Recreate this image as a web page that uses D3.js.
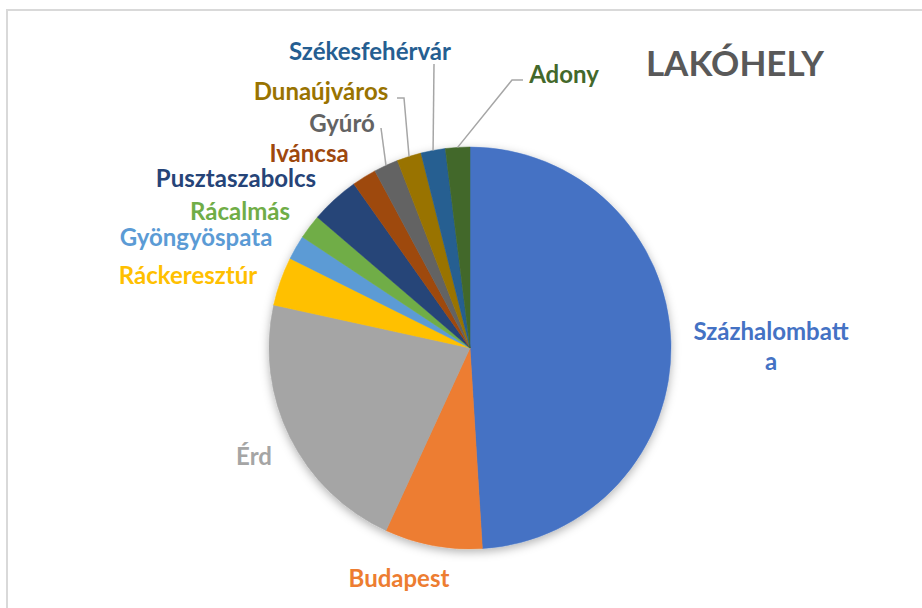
<!DOCTYPE html>
<html>
<head>
<meta charset="utf-8">
<script src="https://cdn.jsdelivr.net/npm/d3@7"></script>
<style>
  body { margin: 0; background: #fff; }
  svg text { font-family: Lato, "Open Sans", sans-serif; font-weight: bold; }
</style>
</head>
<body>
<div id="chart"></div>
<script>
// data (number of people per town)
var towns = ["Százhalombatta", "Budapest", "Érd", "Ráckeresztúr", "Gyöngyöspata", "Rácalmás",
             "Pusztaszabolcs", "Iváncsa", "Gyúró", "Dunaújváros", "Székesfehérvár", "Adony"];
var counts = [25, 4, 11, 2, 1, 1, 2, 1, 1, 1, 1, 1];
var colors = ["#4472C4", "#ED7D31", "#A5A5A5", "#FFC000", "#5B9BD5", "#70AD47",
              "#264478", "#9E480E", "#636363", "#997300", "#255E91", "#43682B"];
var title = "LAKÓHELY";

var width = 922, height = 608;
var cx = 470, cy = 348, radius = 201;

// label placement: [text center x, middle y, leader end x, leader end y, leader knee x]
var labelPos = {
    "Százhalombatta": [771, 330],
    "Budapest": [399, 577],
    "Érd": [254, 455],
    "Ráckeresztúr": [188, 274],
    "Gyöngyöspata": [196, 236],
    "Rácalmás": [240, 210],
    "Pusztaszabolcs": [236, 177],
    "Iváncsa": [309, 152],
    "Gyúró": [342, 122, 381, 128],
    "Dunaújváros": [321, 90, 404, 98, 397],
    "Székesfehérvár": [370, 50, 434, 64],
    "Adony": [564, 73, 512, 80, 523]
};

var svg = d3.select("#chart").append("svg")
    .attr("width", width)
    .attr("height", height);

// chart frame
svg.append("rect")
    .attr("x", 7).attr("y", 10)
    .attr("width", width + 10).attr("height", height + 10)
    .attr("fill", "none")
    .attr("stroke", "#d9d9d9")
    .attr("stroke-width", 2);

var defs = svg.append("defs");
defs.append("filter")
    .attr("id", "shadow")
    .attr("x", "-20%").attr("y", "-20%")
    .attr("width", "140%").attr("height", "140%")
    .append("feDropShadow")
    .attr("dx", 0).attr("dy", 3)
    .attr("stdDeviation", 5)
    .attr("flood-color", "#000")
    .attr("flood-opacity", 0.3);

var data = towns.map(function(t, i) { return { name: t, value: counts[i], color: colors[i] }; });

var pie = d3.pie()
    .value(function(d) { return d.value; })
    .sort(null);

var arc = d3.arc().innerRadius(0).outerRadius(radius);

var arcs = pie(data);

var g = svg.append("g")
    .attr("transform", "translate(" + cx + "," + cy + ")");

g.append("g")
    .attr("filter", "url(#shadow)")
    .selectAll("path")
    .data(arcs)
    .enter().append("path")
    .attr("d", arc)
    .attr("fill", function(d) { return d.data.color; })
    .attr("stroke", function(d) { return d.data.color; })
    .attr("stroke-width", 0.5);

// leader lines
arcs.forEach(function(d) {
    var p = labelPos[d.data.name];
    if (p.length < 4) return;
    var mid = (d.startAngle + d.endAngle) / 2;
    var sx = cx + radius * Math.sin(mid);
    var sy = cy - radius * Math.cos(mid);
    var pts = [[sx, sy], [p[2], p[3]]];
    if (p.length > 4) pts.push([p[4], p[3]]);
    svg.append("path")
        .attr("d", d3.line()(pts))
        .attr("fill", "none")
        .attr("stroke", "#a6a6a6")
        .attr("stroke-width", 1.5);
});

// labels
arcs.forEach(function(d) {
    var p = labelPos[d.data.name];
    var t = svg.append("text")
        .attr("x", p[0])
        .attr("y", p[1])
        .attr("text-anchor", "middle")
        .attr("dominant-baseline", "central")
        .attr("font-size", 24)
        .attr("fill", d.data.color);
    if (d.data.name === "Százhalombatta") {
        t.append("tspan").attr("x", p[0]).attr("dy", 0).text(d.data.name.slice(0, 13));
        t.append("tspan").attr("x", p[0]).attr("dy", 30).text(d.data.name.slice(13));
    } else {
        t.text(d.data.name);
    }
});

svg.append("text")
    .attr("x", 735)
    .attr("y", 62)
    .attr("text-anchor", "middle")
    .attr("dominant-baseline", "central")
    .attr("font-size", 35)
    .attr("fill", "#595959")
    .text(title);
</script>
</body>
</html>
